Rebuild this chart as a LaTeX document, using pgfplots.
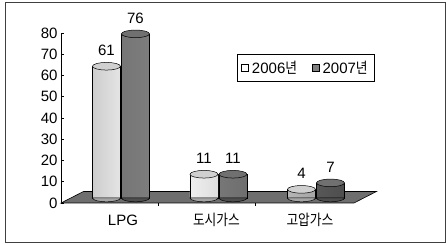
\documentclass[border=0pt]{standalone}
\usepackage{pgfplots}
\pgfplotsset{compat=1.18}
\usepackage{fontspec}
\setmainfont{Liberation Sans}
\newfontfamily\kr{Noto Sans CJK KR}[FakeStretch=0.85]
\pgfplotsset{/pgf/number format/assume math mode=true}
\definecolor{floorgray}{RGB}{110,110,110}
\definecolor{lcA}{RGB}{205,205,205}
\definecolor{lcB}{RGB}{246,246,246}
\definecolor{lcC}{RGB}{165,165,165}
\definecolor{dcA}{RGB}{118,118,118}
\definecolor{dcB}{RGB}{132,132,132}
\definecolor{dcC}{RGB}{78,78,78}
\definecolor{ltop}{RGB}{208,208,208}
\definecolor{dtop}{RGB}{112,112,112}
\pgfdeclarehorizontalshading{lightcyl}{100bp}{color(0bp)=(lcA); color(25bp)=(lcA); color(36bp)=(lcB); color(44bp)=(lcB); color(75bp)=(lcC); color(100bp)=(lcC)}
\pgfdeclarehorizontalshading{darkcyl}{100bp}{color(0bp)=(dcA); color(25bp)=(dcA); color(38bp)=(dcB); color(75bp)=(dcC); color(100bp)=(dcC)}
\pgfdeclareplotmark{Ltop}{\pgfpathellipse{\pgfpoint{-14.5pt}{0pt}}{\pgfpoint{14pt}{0pt}}{\pgfpoint{0pt}{3.8pt}}\pgfusepathqfillstroke}
\pgfdeclareplotmark{Rtop}{\pgfpathellipse{\pgfpoint{14.5pt}{0pt}}{\pgfpoint{14pt}{0pt}}{\pgfpoint{0pt}{3.8pt}}\pgfusepathqfillstroke}
\pgfdeclareplotmark{Lbot}{\pgfpathmoveto{\pgfpoint{-28.5pt}{0pt}}\pgfpatharc{180}{360}{14pt and 3.8pt}\pgfpathclose\pgfusepathqfillstroke}
\pgfdeclareplotmark{Rbot}{\pgfpathmoveto{\pgfpoint{0.5pt}{0pt}}\pgfpatharc{180}{360}{14pt and 3.8pt}\pgfpathclose\pgfusepathqfillstroke}
\newcommand\lab{\fontsize{15}{18}\selectfont}
\begin{document}
\begin{tikzpicture}
\useasboundingbox (0,0) rectangle (447pt,245pt);
\draw[line width=1pt, black!75] (5pt,2pt) rectangle (445pt,242pt);
% axis with y scale, floor and legend
\begin{axis}[at={(61pt,42pt)}, anchor=south west, scale only axis,
  width=293pt, height=170pt,
  xmin=-0.663, xmax=2.471, ymin=0, ymax=80, clip=false,
  axis y line*=left, axis x line*=bottom,
  x axis line style={draw=none},
  y axis line style={black, line width=0.6pt},
  ytick={0,10,...,80},
  ytick style={black, line width=0.6pt},
  tick align=inside, major tick length=3pt,
  xtick={0,1,2},
  xticklabels={LPG,{\kr 도시가스},{\kr 고압가스}},
  xtick style={draw=none},
  extra x ticks={0.374,1.41}, extra x tick labels={},
  extra x tick style={xtick style={draw=black, line width=0.6pt}, tick align=center, major tick length=6pt},
  xticklabel style={anchor=base, inner sep=0pt, yshift=-23pt},
  ticklabel style={font=\lab},
  legend style={at={(0.601,0.876)}, anchor=north west, draw=black, line width=0.8pt,
    font=\lab, legend columns=2, inner xsep=4pt, inner ysep=5pt,
    nodes={inner xsep=3pt, inner ysep=1.5pt},
    /tikz/every even column/.append style={column sep=12pt}},
  legend cell align=left,
]
\addplot[forget plot, fill=floorgray, draw=black, line width=0.6pt] coordinates {(-0.663,0) (2.471,0) (2.711,5.4) (-0.423,5.4)} -- cycle;
\addlegendimage{legend image code/.code={\draw[fill=white, line width=0.5pt] (0pt,-3.5pt) rectangle (7pt,3.5pt);}}
\addlegendentry{2006{\kr 년}}
\addlegendimage{legend image code/.code={\draw[fill=gray, line width=0.5pt] (0pt,-3.5pt) rectangle (7pt,3.5pt);}}
\addlegendentry{2007{\kr 년}}
\end{axis}
% axis with the cylinders
\begin{axis}[at={(61pt,47pt)}, anchor=south west, scale only axis,
  width=293pt, height=172.8pt,
  xmin=-0.615, xmax=2.39, ymin=0, ymax=80, clip=false, hide axis,
]
% 2006
\addplot[ybar, bar width=28pt, bar shift=-14.5pt, draw=black, line width=0.5pt, shade, shading=lightcyl,
  nodes near coords, every node near coord/.append style={anchor=base, xshift=-14.5pt, yshift=10.5pt, font=\lab, text=black}]
  coordinates {(0,61) (1,11) (2,4)};
\addplot[only marks, mark=Lbot, mark options={fill=lcC, draw=black, line width=0.5pt}] coordinates {(0,0) (1,0) (2,0)};
\addplot[only marks, mark=Ltop, mark options={fill=ltop, draw=black, line width=0.5pt}] coordinates {(0,61) (1,11) (2,4)};
% 2007
\addplot[ybar, bar width=28pt, bar shift=14.5pt, draw=black, line width=0.5pt, shade, shading=darkcyl,
  nodes near coords, every node near coord/.append style={anchor=base, xshift=14.5pt, yshift=10.5pt, font=\lab, text=black}]
  coordinates {(0,76) (1,11) (2,7)};
\addplot[only marks, mark=Rbot, mark options={fill=dcC, draw=black, line width=0.5pt}] coordinates {(0,0) (1,0) (2,0)};
\addplot[only marks, mark=Rtop, mark options={fill=dtop, draw=black, line width=0.5pt}] coordinates {(0,76) (1,11) (2,7)};
\end{axis}
\end{tikzpicture}
\end{document}
